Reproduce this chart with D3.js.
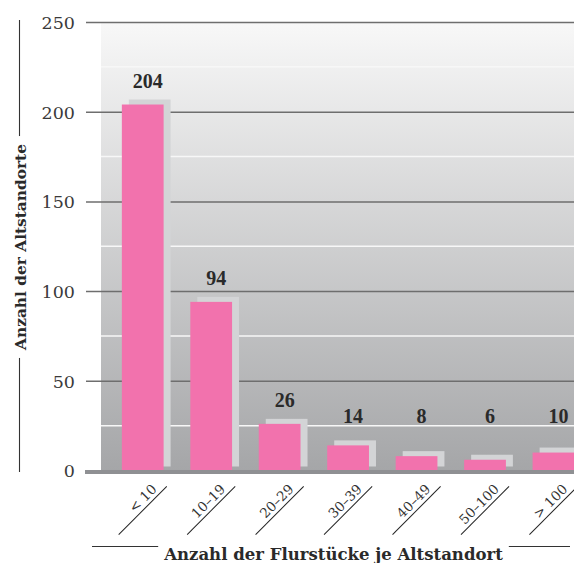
<!DOCTYPE html>
<html><head><meta charset="utf-8">
<script src="https://cdn.jsdelivr.net/npm/d3@7"></script>
<style>body{margin:0;background:#fff}svg{display:block}</style>
</head><body>
<script>
const categories = ["< 10", "10–19", "20–29", "30–39", "40–49", "50–100", "> 100"];
const values = [204, 94, 26, 14, 8, 6, 10];
const yTicks = [0, 50, 100, 150, 200, 250];
const yMinor = [25, 75, 125, 175, 225];
const xTitle = "Anzahl der Flurstücke je Altstandort";
const yTitle = "Anzahl der Altstandorte";

const W = 574, H = 563;
const svg = d3.select("body").append("svg").attr("width", W).attr("height", H);
const defs = svg.append("defs");
const grad = defs.append("linearGradient").attr("id", "bg").attr("x1", 0).attr("x2", 0).attr("y1", 0).attr("y2", 1);
grad.append("stop").attr("offset", "0%").attr("stop-color", "#f8f8f8");
grad.append("stop").attr("offset", "100%").attr("stop-color", "#a5a6a8");

const y = d3.scaleLinear().domain([0, 250]).range([470.5, 22]);
const x = d3.scaleBand().domain(categories).range([108.5, 587.7]).paddingInner(0.39).paddingOuter(0.195);

const serif = "'Liberation Serif', 'DejaVu Serif', serif";
const dserif = "'DejaVu Serif', serif";

// plot background
svg.append("rect").attr("x", 101).attr("y", y(250)).attr("width", W - 101).attr("height", y(0) - y(250)).attr("fill", "url(#bg)");

// minor white lines
svg.append("g").selectAll("line").data(yMinor).join("line")
  .attr("x1", 101).attr("x2", W).attr("y1", d => y(d)).attr("y2", d => y(d))
  .attr("stroke", "#f7f7f7").attr("stroke-width", 1.5);

// major grid via axis
const yAxis = d3.axisLeft(y).tickValues(yTicks).tickSize(-(W - 86)).tickPadding(11).tickFormat(d3.format("d"));
const ga = svg.append("g").attr("transform", "translate(86,0)").call(yAxis);
ga.select(".domain").remove();
ga.selectAll(".tick line").attr("stroke", d => d === 0 ? "none" : "#6e6e6e").attr("stroke-width", 1.5);
ga.selectAll(".tick text").attr("font-family", dserif).attr("font-size", 17.5).attr("fill", "#3a3a3a").attr("x", -11).attr("dy", "0.36em");

// bars: shadow + pink
const bars = svg.append("g");
bars.selectAll("rect.sh").data(values).join("rect").attr("class", "sh")
  .attr("x", (d, i) => x(categories[i]) + 7).attr("width", x.bandwidth())
  .attr("y", d => y(d) - 5).attr("height", d => y(0) - 4 - (y(d) - 5))
  .attr("fill", "#d3d4d6");
bars.selectAll("rect.pk").data(values).join("rect").attr("class", "pk")
  .attr("x", (d, i) => x(categories[i])).attr("width", x.bandwidth())
  .attr("y", d => y(d)).attr("height", d => y(0) - y(d))
  .attr("fill", "#f272ad");

// zero baseline
svg.append("line").attr("x1", 85).attr("x2", W).attr("y1", y(0) + 1.5).attr("y2", y(0) + 1.5)
  .attr("stroke", "#8f9093").attr("stroke-width", 4);

// value labels
svg.append("g").selectAll("text").data(values).join("text")
  .attr("x", (d, i) => x(categories[i]) + x.bandwidth() / 2 + 5)
  .attr("y", d => Math.min(y(d) - 17, y(0) - 47.5))
  .attr("text-anchor", "middle").attr("font-family", serif).attr("font-weight", "bold")
  .attr("font-size", 20).attr("fill", "#2a2a2a").text(d => d);

// x category labels, rotated with underline
const xl = svg.append("g").selectAll("g").data(categories).join("g")
  .attr("transform", d => `translate(${x(d) + x.bandwidth() / 2},510.5) rotate(-45)`);
xl.append("line").attr("x1", -34).attr("x2", 34).attr("y1", 0).attr("y2", 0).attr("stroke", "#222").attr("stroke-width", 1);
xl.append("text").attr("x", 25).attr("y", -4).attr("text-anchor", "end")
  .attr("font-family", dserif).attr("font-size", 13.5).attr("fill", "#333").text(d => d);

// x title with side lines
const xt = svg.append("text").attr("x", 333.5).attr("y", 560).attr("text-anchor", "middle")
  .attr("font-family", dserif).attr("font-weight", "bold").attr("font-size", 16).attr("fill", "#2a2a2a").text(xTitle);
let xw = xt.node().getComputedTextLength();
xt.attr("font-size", 16 * 339 / xw);
xw = xt.node().getComputedTextLength();
svg.append("line").attr("x1", 92).attr("x2", 333.5 - xw / 2 - 6).attr("y1", 546.5).attr("y2", 546.5).attr("stroke", "#333").attr("stroke-width", 1.1);
svg.append("line").attr("x1", 333.5 + xw / 2 + 6).attr("x2", 570).attr("y1", 546.5).attr("y2", 546.5).attr("stroke", "#333").attr("stroke-width", 1.1);

// y title with lines
const yc = 247;
const yt = svg.append("text").attr("transform", `translate(25.5,${yc}) rotate(-90)`).attr("text-anchor", "middle")
  .attr("font-family", dserif).attr("font-weight", "bold").attr("font-size", 16).attr("fill", "#2a2a2a").text(yTitle);
let yw = yt.node().getComputedTextLength();
yt.attr("font-size", 16 * 206 / yw);
yw = yt.node().getComputedTextLength();
svg.append("line").attr("x1", 19.5).attr("x2", 19.5).attr("y1", 20).attr("y2", yc - yw / 2 - 8).attr("stroke", "#333").attr("stroke-width", 1.1);
svg.append("line").attr("x1", 19.5).attr("x2", 19.5).attr("y1", yc + yw / 2 + 8).attr("y2", 472).attr("stroke", "#333").attr("stroke-width", 1.1);
</script>
</body></html>
